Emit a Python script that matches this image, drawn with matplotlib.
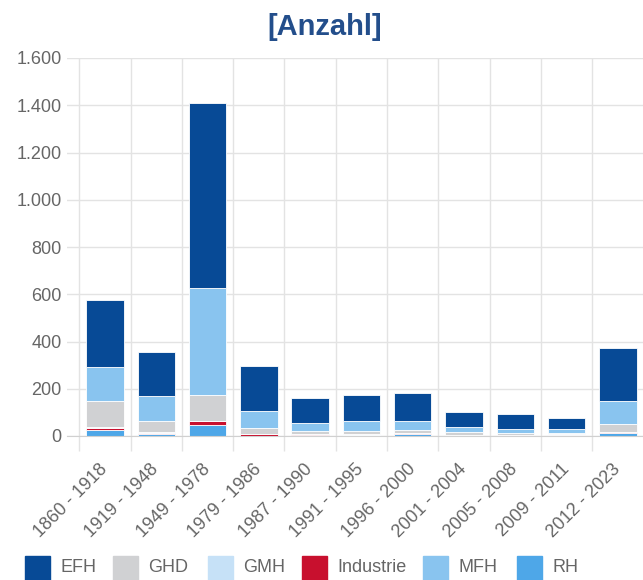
import matplotlib.pyplot as plt
from matplotlib.patches import Rectangle
from matplotlib.ticker import FuncFormatter, FixedLocator
import numpy as np

categories = ["1860 - 1918", "1919 - 1948", "1949 - 1978", "1979 - 1986",
              "1987 - 1990", "1991 - 1995", "1996 - 2000", "2001 - 2004",
              "2005 - 2008", "2009 - 2011", "2012 - 2023"]

# values per building type
rh = [27, 10, 47, 2, 3, 4, 8, 3, 2, 2, 14]
industrie = [8, 4, 16, 5, 5, 2, 4, 1, 1, 4, 1]
gmh = [2, 2, 2, 1, 1, 1, 1, 1, 1, 1, 1]
ghd = [110, 49, 109, 25, 12, 14, 13, 10, 8, 5, 36]
mfh = [143, 106, 451, 74, 35, 41, 38, 25, 17, 17, 97]
efh = [285, 186, 785, 190, 103, 111, 119, 60, 64, 47, 225]

legend_names = ["EFH", "GHD", "GMH", "Industrie", "MFH", "RH"]
colors = {"EFH": "#074a96", "GHD": "#d0d1d3", "GMH": "#c6e1f7",
          "Industrie": "#c8102e", "MFH": "#89c4ef", "RH": "#4ea7e8"}

# stacking order bottom -> top
stack = [("RH", rh), ("Industrie", industrie), ("GMH", gmh),
         ("GHD", ghd), ("MFH", mfh), ("EFH", efh)]

plt.rcParams['font.family'] = ['Liberation Sans', 'DejaVu Sans']
text_color = "#666666"
grid_color = "#e3e3e3"

fig = plt.figure(figsize=(6.43, 5.8), dpi=100)
ax = fig.add_axes([67 / 643, 1 - 436 / 580, 576 / 643, (436 - 58) / 580])

x = np.arange(len(categories))
bottom = np.zeros(len(categories))
for name, vals in stack:
    vals = np.array(vals, dtype=float)
    ax.bar(x, vals, width=0.73, bottom=bottom, color=colors[name],
           edgecolor="white", linewidth=0.6, zorder=3)
    bottom += vals

ax.set_ylim(0, 1600)
ax.set_xlim(-0.74, 10.49)
ax.set_yticks(np.arange(0, 1601, 200))
ax.yaxis.set_major_formatter(FuncFormatter(lambda v, p: f"{int(v):,}".replace(",", ".")))

ax.set_xticks(x)
ax.set_xticklabels(categories, rotation=45, ha="right", rotation_mode="anchor",
                   va="center")
ax.xaxis.set_minor_locator(FixedLocator(np.arange(-0.5, len(categories), 1.0)))

ax.tick_params(axis="x", which="major", length=0, pad=22, labelsize=13,
               labelcolor=text_color)
ax.tick_params(axis="x", which="minor", length=11, width=1, color=grid_color)
ax.tick_params(axis="y", length=0, pad=4, labelsize=13, labelcolor=text_color)

ax.grid(axis="y", color=grid_color, linewidth=1, zorder=0)
ax.grid(axis="x", which="minor", color=grid_color, linewidth=1, zorder=0)
for s in ["top", "right", "left"]:
    ax.spines[s].set_visible(False)
ax.spines["bottom"].set_color("#d0d0d0")
ax.spines["bottom"].set_zorder(4)

fig.text(0.505, 1 - 27 / 580, "[Anzahl]", ha="center", va="center",
         fontsize=21, fontweight="bold", color="#234e8b")

# legend row
leg_x = [25, 113, 208, 302, 423, 517]
for px, name in zip(leg_x, legend_names):
    fig.patches.append(Rectangle((px / 643, 1 - 581 / 580), 25 / 643, 25 / 580,
                                 transform=fig.transFigure, color=colors[name]))
    fig.text((px + 35) / 643, 1 - 568 / 580, name, ha="left", va="center",
             fontsize=13, color=text_color)

fig.savefig("out.png", dpi=100)
